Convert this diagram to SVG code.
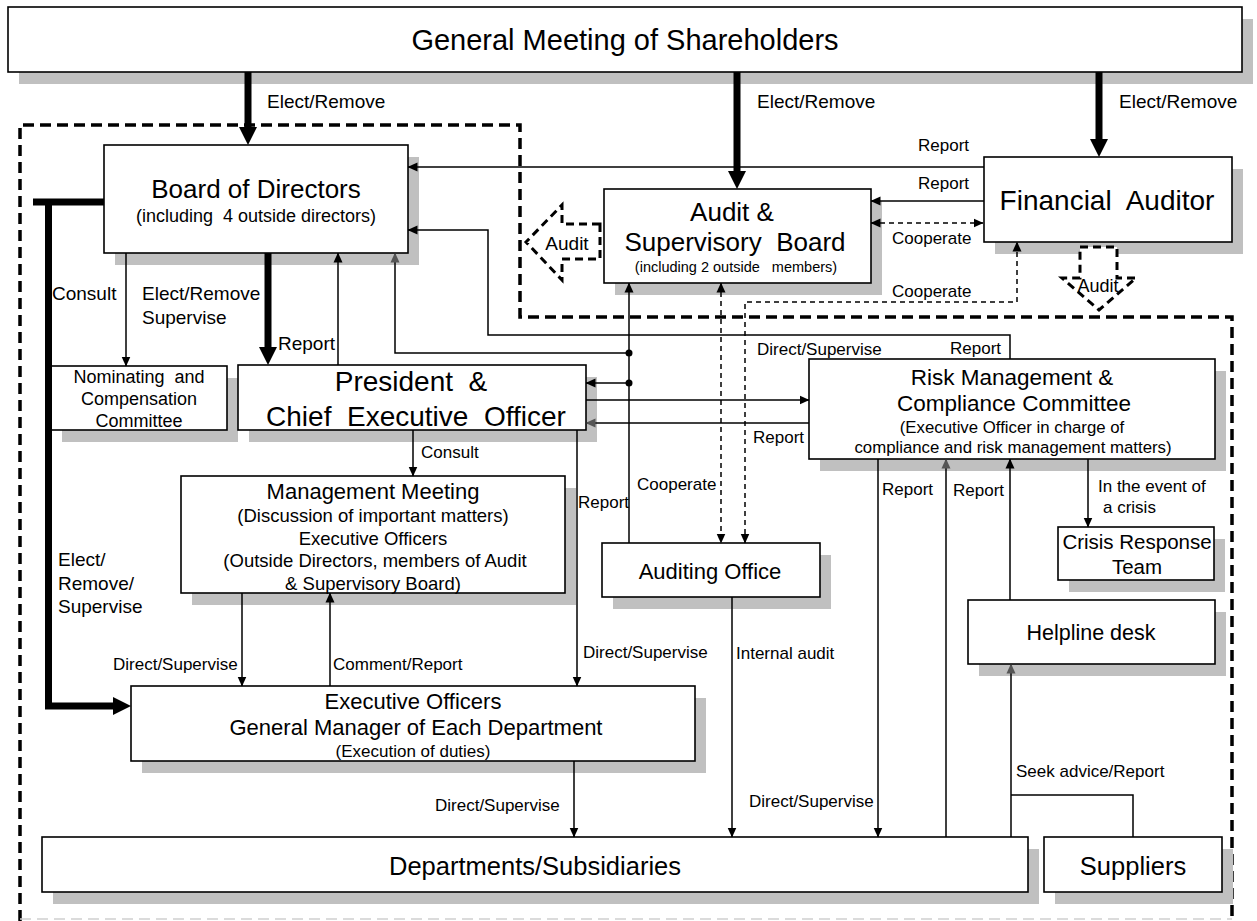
<svg xmlns="http://www.w3.org/2000/svg" width="1257" height="921" viewBox="0 0 1257 921">
<style>
text{font-family:"Liberation Sans",Arial,Helvetica,sans-serif;fill:#000}
.c{text-anchor:middle;dominant-baseline:central}
.l{dominant-baseline:central}
.box{fill:#fff;stroke:#000;stroke-width:1.6}
.sh{fill:#c0c0c0}
.ln{fill:none;stroke:#000;stroke-width:1.5}
.ds{stroke-dasharray:5 4}
.tk{fill:none;stroke:#000;stroke-width:7}
.s17{font-size:17px}
.s19{font-size:19px}
</style>
<defs>
<marker id="a" viewBox="0 0 10 10" refX="9.5" refY="5" markerWidth="10" markerHeight="10" markerUnits="userSpaceOnUse" orient="auto-start-reverse"><path d="M0,0.5 L10,5 L0,9.5z" fill="#000"/></marker>
<marker id="ag" viewBox="0 0 10 10" refX="9.5" refY="5" markerWidth="10" markerHeight="10" markerUnits="userSpaceOnUse" orient="auto-start-reverse"><path d="M0,0.5 L10,5 L0,9.5z" fill="#555"/></marker>
<marker id="at" viewBox="0 0 18 18" refX="8" refY="9" markerWidth="18" markerHeight="18" markerUnits="userSpaceOnUse" orient="auto"><path d="M0,0 L18,9 L0,18z" fill="#000"/></marker>
</defs>
<rect width="1257" height="921" fill="#fff"/>

<g id="region">
<path d="M20,921 V125 H520 V317 H1232 V921" fill="none" stroke="#000" stroke-width="3.5" stroke-dasharray="11 6"/>
<path d="M20,919 H1232" fill="none" stroke="#d0d0d0" stroke-width="1.5" stroke-dasharray="11 6"/>
</g>

<g id="gm">
<rect class="sh" x="19" y="19" width="1234" height="65"/>
<rect class="box" x="8" y="7" width="1234" height="65"/>
<text class="c" x="625" y="40" font-size="29">General Meeting of Shareholders</text>
</g>

<g id="board">
<rect class="sh" x="115" y="157" width="304" height="108"/>
<rect class="box" x="104" y="145" width="304" height="108"/>
<text class="c" x="256" y="189" font-size="26">Board of Directors</text>
<text class="c" x="256" y="216" font-size="18" xml:space="preserve">(including  4 outside directors)</text>
</g>

<g id="asb">
<rect class="sh" x="615" y="201" width="267" height="94"/>
<rect class="box" x="604" y="189" width="267" height="94"/>
<text class="c" x="732" y="212" font-size="26">Audit &amp;</text>
<text class="c" x="735" y="242" font-size="26" xml:space="preserve">Supervisory  Board</text>
<text class="c" x="736" y="267" font-size="14.5" xml:space="preserve">(including 2 outside   members)</text>
</g>

<g id="fa">
<rect class="sh" x="995" y="169" width="248" height="85"/>
<rect class="box" x="984" y="157" width="248" height="85"/>
<text class="c" x="1107" y="200" font-size="28" xml:space="preserve">Financial  Auditor</text>
</g>

<g id="nominating">
<rect class="sh" x="62" y="378" width="176" height="64"/>
<rect class="box" x="51" y="366" width="176" height="64"/>
<text class="c" x="139" y="377" font-size="18" xml:space="preserve">Nominating  and</text>
<text class="c" x="139" y="399" font-size="18">Compensation</text>
<text class="c" x="139" y="421" font-size="18">Committee</text>
</g>

<g id="president">
<rect class="sh" x="249" y="377" width="348" height="65"/>
<rect class="box" x="238" y="365" width="348" height="65"/>
<text class="c" x="411" y="381" font-size="28" xml:space="preserve">President  &amp;</text>
<text class="c" x="416" y="416" font-size="28" xml:space="preserve">Chief  Executive  Officer</text>
</g>

<g id="mm">
<rect class="sh" x="192" y="488" width="384" height="117"/>
<rect class="box" x="181" y="476" width="384" height="117"/>
<text class="c" x="373" y="491" font-size="22">Management Meeting</text>
<text class="c" x="373" y="515" font-size="18.5">(Discussion of important matters)</text>
<text class="c" x="373" y="538" font-size="18.5">Executive Officers</text>
<text class="c" x="375" y="560" font-size="18.5">(Outside Directors, members of Audit</text>
<text class="c" x="373" y="583" font-size="18.5">&amp; Supervisory Board)</text>
</g>

<g id="risk">
<rect class="sh" x="820" y="371" width="406" height="100"/>
<rect class="box" x="809" y="359" width="406" height="100"/>
<text class="c" x="1012" y="377" font-size="22.5">Risk Management &amp;</text>
<text class="c" x="1014" y="403" font-size="22.5">Compliance Committee</text>
<text class="c" x="1012" y="427" font-size="16.8">(Executive Officer in charge of</text>
<text class="c" x="1013" y="447" font-size="16.8">compliance and risk management matters)</text>
</g>

<g id="crisis">
<rect class="sh" x="1069" y="539" width="156" height="53"/>
<rect class="box" x="1058" y="527" width="156" height="53"/>
<text class="c" x="1137" y="541" font-size="20.5">Crisis Response</text>
<text class="c" x="1137" y="566" font-size="20.5">Team</text>
</g>

<g id="helpline">
<rect class="sh" x="979" y="612" width="247" height="64"/>
<rect class="box" x="968" y="600" width="247" height="64"/>
<text class="c" x="1091" y="633" font-size="21.5">Helpline desk</text>
</g>

<g id="auditing-office">
<rect class="sh" x="613" y="555" width="218" height="54"/>
<rect class="box" x="602" y="543" width="218" height="54"/>
<text class="c" x="710" y="571" font-size="22">Auditing Office</text>
</g>

<g id="exec">
<rect class="sh" x="142" y="698" width="564" height="75"/>
<rect class="box" x="131" y="686" width="564" height="75"/>
<text class="c" x="413" y="701" font-size="22">Executive Officers</text>
<text class="c" x="416" y="727" font-size="22">General Manager of Each Department</text>
<text class="c" x="413" y="751" font-size="17">(Execution of duties)</text>
</g>

<g id="departments">
<rect class="sh" x="53" y="849" width="986" height="55"/>
<rect class="box" x="42" y="837" width="986" height="55"/>
<text class="c" x="535" y="866" font-size="25.5">Departments/Subsidiaries</text>
</g>

<g id="suppliers">
<rect class="sh" x="1055" y="849" width="178" height="55"/>
<rect class="box" x="1044" y="837" width="178" height="55"/>
<text class="c" x="1133" y="866" font-size="25.5">Suppliers</text>
</g>

<g id="audit-arrows">
<polygon points="600,224 562,224 562,205 526,242 562,280 562,259 600,259" fill="#fff" stroke="#000" stroke-width="3" stroke-dasharray="8 5"/>
<text class="c" x="567" y="243" font-size="19">Audit</text>
<polygon points="1080,247 1117,247 1117,278 1136,278 1099,310 1062,278 1080,278" fill="#fff" stroke="#000" stroke-width="3" stroke-dasharray="8 5"/>
<text class="c" x="1098" y="286" font-size="18">Audit</text>
</g>

<g id="connectors">
<path class="tk" d="M248,72 V135" marker-end="url(#at)"/>
<path class="tk" d="M737,72 V179" marker-end="url(#at)"/>
<path class="tk" d="M1099,72 V147" marker-end="url(#at)"/>
<path class="tk" d="M268,253 V355" marker-end="url(#at)"/>
<path class="tk" d="M33,202 H104"/>
<path class="tk" d="M48.5,202 V706 H121" marker-end="url(#at)"/>

<path class="ln" d="M984,167 H408" marker-end="url(#a)"/>
<path class="ln" d="M984,201 H871" marker-end="url(#a)"/>
<path class="ln ds" d="M871,223 H983" marker-start="url(#a)" marker-end="url(#a)"/>
<path class="ln ds" d="M745,543 V302 H1017 V242" marker-start="url(#a)" marker-end="url(#a)"/>
<path class="ln ds" d="M721,283 V543" marker-start="url(#a)" marker-end="url(#a)"/>

<path class="ln" d="M126,253 V366" marker-end="url(#a)"/>
<path class="ln" d="M338,365 V253" marker-end="url(#a)"/>
<path class="ln" d="M629,353 H395 V253" marker-end="url(#ag)"/>
<path class="ln" d="M1010,359 V335 H488 V230 H408" marker-end="url(#a)"/>
<path class="ln" d="M629,543 V283" marker-end="url(#a)"/>
<path class="ln" d="M629,383 H586" marker-end="url(#a)"/>
<circle cx="629" cy="353" r="3.5" fill="#000"/>
<circle cx="629" cy="383" r="3.5" fill="#000"/>
<path class="ln" d="M586,400 H809" marker-end="url(#a)"/>
<path class="ln" d="M809,423 H586" marker-end="url(#ag)"/>

<path class="ln" d="M413,430 V476" marker-end="url(#a)"/>
<path class="ln" d="M577,430 V686" marker-end="url(#a)"/>
<path class="ln" d="M242,593 V686" marker-end="url(#a)"/>
<path class="ln" d="M330,686 V593" marker-end="url(#a)"/>
<path class="ln" d="M574,761 V837" marker-end="url(#a)"/>
<path class="ln" d="M732,597 V837" marker-end="url(#a)"/>

<path class="ln" d="M878,459 V837" marker-end="url(#a)"/>
<path class="ln" d="M946,837 V459" marker-end="url(#ag)"/>
<path class="ln" d="M1010,600 V459" marker-end="url(#a)"/>
<path class="ln" d="M1088,459 V527" marker-end="url(#a)"/>
<path class="ln" d="M1011,837 V664" marker-end="url(#ag)"/>
<path class="ln" d="M1133,837 V795 H1011"/>
</g>

<g id="labels">
<text class="l s19" x="267" y="101">Elect/Remove</text>
<text class="l s19" x="757" y="101">Elect/Remove</text>
<text class="l s19" x="1119" y="101">Elect/Remove</text>
<text class="l s17" x="918" y="145">Report</text>
<text class="l s17" x="918" y="183">Report</text>
<text class="l s17" x="892" y="238">Cooperate</text>
<text class="l s17" x="892" y="291">Cooperate</text>
<text class="l s19" x="52" y="293">Consult</text>
<text class="l s19" x="142" y="293">Elect/Remove</text>
<text class="l s19" x="142" y="317">Supervise</text>
<text class="l s19" x="278" y="343">Report</text>
<text class="l s17" x="757" y="349">Direct/Supervise</text>
<text class="l s17" x="950" y="348">Report</text>
<text class="l s17" x="753" y="437">Report</text>
<text class="l s17" x="421" y="452">Consult</text>
<text class="l s17" x="637" y="484">Cooperate</text>
<text class="l s17" x="578" y="502">Report</text>
<text class="l s17" x="882" y="489">Report</text>
<text class="l s17" x="953" y="490">Report</text>
<text class="l s17" x="1098" y="486">In the event of</text>
<text class="l s17" x="1103" y="507">a crisis</text>
<text class="l s19" x="58" y="559">Elect/</text>
<text class="l s19" x="58" y="583">Remove/</text>
<text class="l s19" x="58" y="606">Supervise</text>
<text class="l s17" x="113" y="664">Direct/Supervise</text>
<text class="l s17" x="333" y="664">Comment/Report</text>
<text class="l s17" x="583" y="652">Direct/Supervise</text>
<text class="l s17" x="736" y="653">Internal audit</text>
<text class="l s17" x="435" y="805">Direct/Supervise</text>
<text class="l s17" x="749" y="801">Direct/Supervise</text>
<text class="l s17" x="1016" y="771">Seek advice/Report</text>
</g>
</svg>
